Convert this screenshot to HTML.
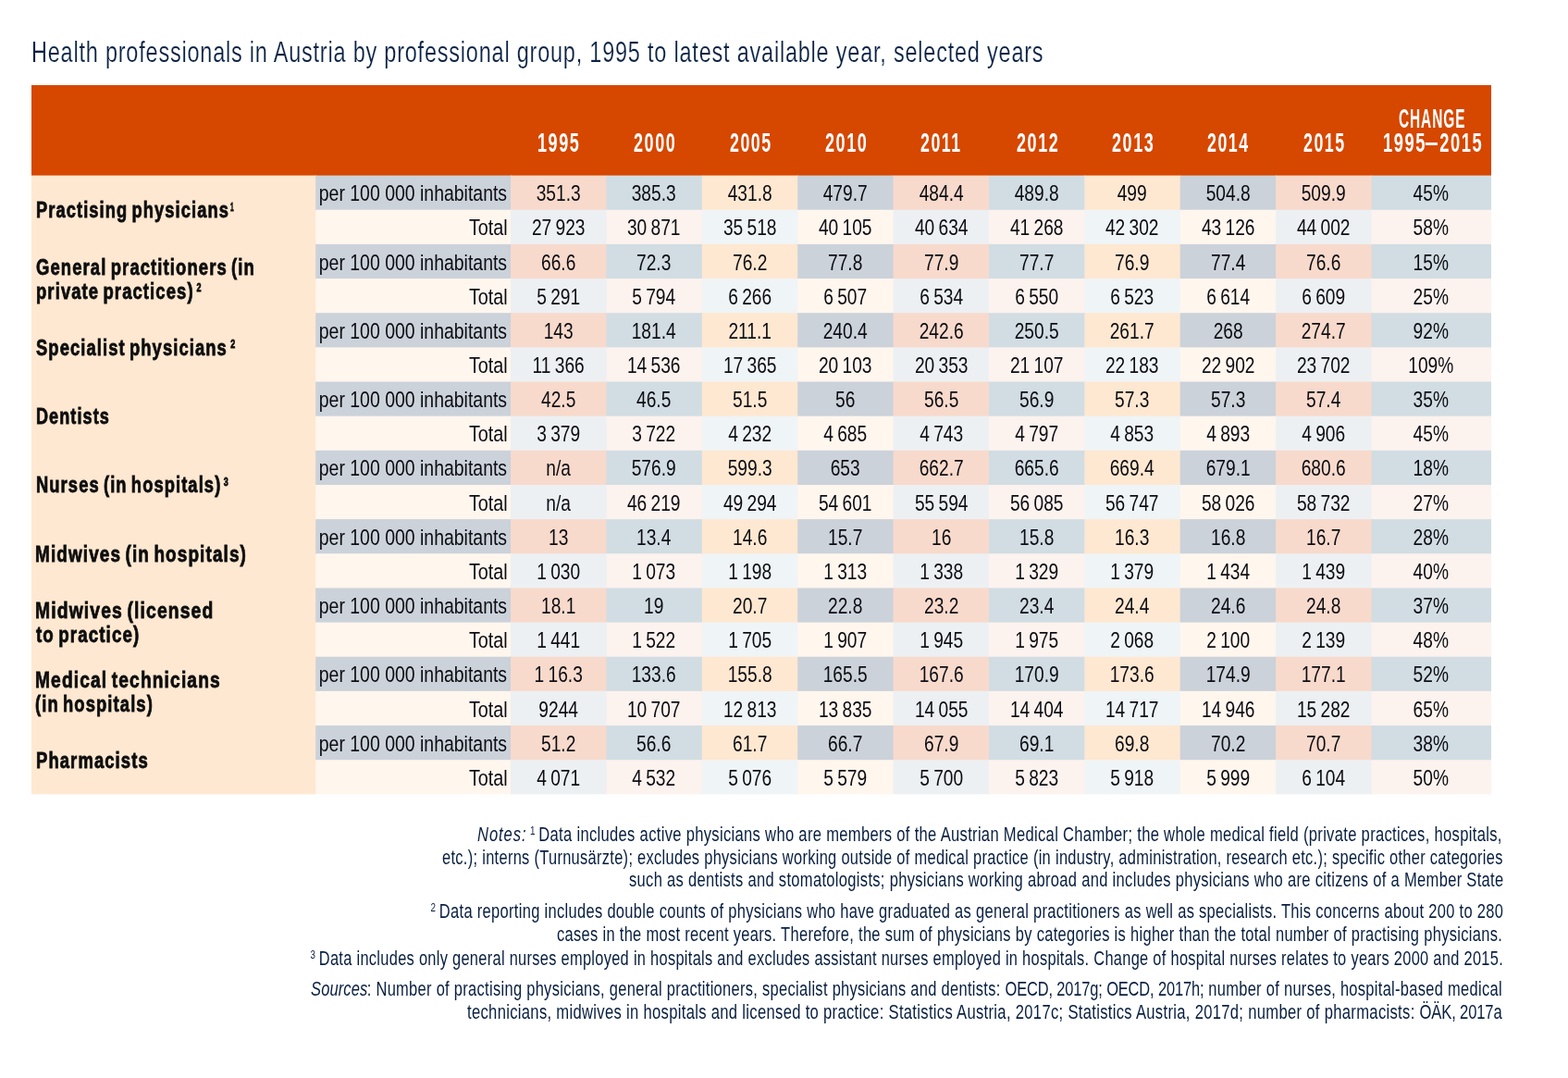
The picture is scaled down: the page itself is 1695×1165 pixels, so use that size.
<!DOCTYPE html>
<html lang="en">
<head>
<meta charset="utf-8">
<title>Health professionals in Austria by professional group</title>
<style>
html,body{margin:0;padding:0;background:#fff;}
body{width:1695px;height:1165px;position:relative;overflow:hidden;font-family:"Liberation Sans",sans-serif;color:#0c0c12;}
.a{position:absolute;}
.f{position:absolute;white-space:nowrap;transform-origin:0 0;}
.c{position:absolute;height:37.15px;}
.t{position:absolute;left:0;right:0;top:0.65px;text-align:center;white-space:nowrap;font-size:24.5px;line-height:37.15px;word-spacing:-1.3px;letter-spacing:0px;transform:scaleX(0.782);transform-origin:50% 50%;}
.r{position:absolute;right:3.7px;top:0.65px;white-space:nowrap;font-size:24.5px;line-height:37.15px;transform-origin:100% 50%;}
.per{transform:scaleX(0.794);word-spacing:0px;letter-spacing:0px;}
.tot{transform:scaleX(0.809);right:3.7px;}
.hd{color:#fff;}
.lab{color:#0d0d0d;}
.ti{color:#0a2244;}
.n{color:#081f40;}
.k0{font-size:32.2px;line-height:36px;letter-spacing:1.1px;-webkit-text-stroke:0.2px #fff;}
.k1{font-weight:700;font-size:30.4px;line-height:32px;letter-spacing:2.6px;}
.k2{font-weight:700;font-size:30.4px;line-height:32px;letter-spacing:1.8px;}
.k3{font-weight:700;font-size:23.5px;line-height:26px;letter-spacing:1.4px;word-spacing:-2.5px;-webkit-text-stroke:0.8px currentColor;}
.k4{font-size:21.8px;line-height:26px;letter-spacing:0.4px;}
.lab sup{display:inline-block;font-size:13.5px;vertical-align:baseline;position:relative;top:-7.4px;line-height:0;letter-spacing:0;margin:0 -2px 0 1px;transform:scaleX(0.62);transform-origin:0 50%;}
.lab sup.s2{margin:0 -1px 0 4px;transform:scaleX(0.85);}
.lab sup.s3{margin:0 -1px 0 3px;transform:scaleX(0.85);}
.n i{font-style:italic;letter-spacing:1.2px;}
.n i.s{letter-spacing:0.2px;margin-right:-1px;}
.n sup{font-size:13px;vertical-align:baseline;position:relative;top:-6.8px;line-height:0;letter-spacing:0;margin:0 -1.46px 0 -1.86px;}
.d{display:inline-block;transform:scaleX(1.45);margin:0 3px 0 1px;}
.u{letter-spacing:-0.2px;}
</style>
</head>
<body>
<div class="f ti k0" style="left:33.66px;top:38.1px;transform:scaleX(0.7286)">Health professionals in Austria by professional group, 1995 to latest available year, selected years</div>
<svg class="a" style="left:0;top:0" width="1695" height="1165" viewBox="0 0 1695 1165" aria-hidden="true"><rect x="34" y="92" width="1578" height="98" fill="#d64700"/><rect x="34" y="189.6" width="308" height="668.75" fill="#ffe8d1"/><rect x="341.2" y="189.6" width="211.8" height="37.4" fill="#cbd2da"/><rect x="552.05" y="189.6" width="103.95" height="37.4" fill="#f8dacc"/><rect x="655.43" y="189.6" width="103.57" height="37.4" fill="#d1dde3"/><rect x="758.81" y="189.6" width="104.19" height="37.4" fill="#ffe8d1"/><rect x="862.19" y="189.6" width="103.81" height="37.4" fill="#cbd2da"/><rect x="965.57" y="189.6" width="103.43" height="37.4" fill="#f8dacc"/><rect x="1068.95" y="189.6" width="104.05" height="37.4" fill="#d1dde3"/><rect x="1172.33" y="189.6" width="103.67" height="37.4" fill="#ffe8d1"/><rect x="1275.71" y="189.6" width="104.29" height="37.4" fill="#cbd2da"/><rect x="1379.09" y="189.6" width="103.91" height="37.4" fill="#f8dacc"/><rect x="1482.47" y="189.6" width="129.53" height="37.4" fill="#d1dde3"/>
<rect x="341.2" y="226.75" width="211.8" height="37.25" fill="#fff6ee"/><rect x="552.05" y="226.75" width="103.95" height="37.25" fill="#ecf0f3"/><rect x="655.43" y="226.75" width="103.57" height="37.25" fill="#fcf2ee"/><rect x="758.81" y="226.75" width="104.19" height="37.25" fill="#eff4f7"/><rect x="862.19" y="226.75" width="103.81" height="37.25" fill="#fff6ee"/><rect x="965.57" y="226.75" width="103.43" height="37.25" fill="#ecf0f3"/><rect x="1068.95" y="226.75" width="104.05" height="37.25" fill="#fcf2ee"/><rect x="1172.33" y="226.75" width="103.67" height="37.25" fill="#eff4f7"/><rect x="1275.71" y="226.75" width="104.29" height="37.25" fill="#fff6ee"/><rect x="1379.09" y="226.75" width="103.91" height="37.25" fill="#ecf0f3"/><rect x="1482.47" y="226.75" width="129.53" height="37.25" fill="#fcf2ee"/>
<rect x="341.2" y="263.91" width="211.8" height="38.09" fill="#cbd2da"/><rect x="552.05" y="263.91" width="103.95" height="38.09" fill="#f8dacc"/><rect x="655.43" y="263.91" width="103.57" height="38.09" fill="#d1dde3"/><rect x="758.81" y="263.91" width="104.19" height="38.09" fill="#ffe8d1"/><rect x="862.19" y="263.91" width="103.81" height="38.09" fill="#cbd2da"/><rect x="965.57" y="263.91" width="103.43" height="38.09" fill="#f8dacc"/><rect x="1068.95" y="263.91" width="104.05" height="38.09" fill="#d1dde3"/><rect x="1172.33" y="263.91" width="103.67" height="38.09" fill="#ffe8d1"/><rect x="1275.71" y="263.91" width="104.29" height="38.09" fill="#cbd2da"/><rect x="1379.09" y="263.91" width="103.91" height="38.09" fill="#f8dacc"/><rect x="1482.47" y="263.91" width="129.53" height="38.09" fill="#d1dde3"/>
<rect x="341.2" y="301.06" width="211.8" height="37.94" fill="#fff6ee"/><rect x="552.05" y="301.06" width="103.95" height="37.94" fill="#ecf0f3"/><rect x="655.43" y="301.06" width="103.57" height="37.94" fill="#fcf2ee"/><rect x="758.81" y="301.06" width="104.19" height="37.94" fill="#eff4f7"/><rect x="862.19" y="301.06" width="103.81" height="37.94" fill="#fff6ee"/><rect x="965.57" y="301.06" width="103.43" height="37.94" fill="#ecf0f3"/><rect x="1068.95" y="301.06" width="104.05" height="37.94" fill="#fcf2ee"/><rect x="1172.33" y="301.06" width="103.67" height="37.94" fill="#eff4f7"/><rect x="1275.71" y="301.06" width="104.29" height="37.94" fill="#fff6ee"/><rect x="1379.09" y="301.06" width="103.91" height="37.94" fill="#ecf0f3"/><rect x="1482.47" y="301.06" width="129.53" height="37.94" fill="#fcf2ee"/>
<rect x="341.2" y="338.21" width="211.8" height="37.79" fill="#cbd2da"/><rect x="552.05" y="338.21" width="103.95" height="37.79" fill="#f8dacc"/><rect x="655.43" y="338.21" width="103.57" height="37.79" fill="#d1dde3"/><rect x="758.81" y="338.21" width="104.19" height="37.79" fill="#ffe8d1"/><rect x="862.19" y="338.21" width="103.81" height="37.79" fill="#cbd2da"/><rect x="965.57" y="338.21" width="103.43" height="37.79" fill="#f8dacc"/><rect x="1068.95" y="338.21" width="104.05" height="37.79" fill="#d1dde3"/><rect x="1172.33" y="338.21" width="103.67" height="37.79" fill="#ffe8d1"/><rect x="1275.71" y="338.21" width="104.29" height="37.79" fill="#cbd2da"/><rect x="1379.09" y="338.21" width="103.91" height="37.79" fill="#f8dacc"/><rect x="1482.47" y="338.21" width="129.53" height="37.79" fill="#d1dde3"/>
<rect x="341.2" y="375.37" width="211.8" height="37.63" fill="#fff6ee"/><rect x="552.05" y="375.37" width="103.95" height="37.63" fill="#ecf0f3"/><rect x="655.43" y="375.37" width="103.57" height="37.63" fill="#fcf2ee"/><rect x="758.81" y="375.37" width="104.19" height="37.63" fill="#eff4f7"/><rect x="862.19" y="375.37" width="103.81" height="37.63" fill="#fff6ee"/><rect x="965.57" y="375.37" width="103.43" height="37.63" fill="#ecf0f3"/><rect x="1068.95" y="375.37" width="104.05" height="37.63" fill="#fcf2ee"/><rect x="1172.33" y="375.37" width="103.67" height="37.63" fill="#eff4f7"/><rect x="1275.71" y="375.37" width="104.29" height="37.63" fill="#fff6ee"/><rect x="1379.09" y="375.37" width="103.91" height="37.63" fill="#ecf0f3"/><rect x="1482.47" y="375.37" width="129.53" height="37.63" fill="#fcf2ee"/>
<rect x="341.2" y="412.52" width="211.8" height="37.48" fill="#cbd2da"/><rect x="552.05" y="412.52" width="103.95" height="37.48" fill="#f8dacc"/><rect x="655.43" y="412.52" width="103.57" height="37.48" fill="#d1dde3"/><rect x="758.81" y="412.52" width="104.19" height="37.48" fill="#ffe8d1"/><rect x="862.19" y="412.52" width="103.81" height="37.48" fill="#cbd2da"/><rect x="965.57" y="412.52" width="103.43" height="37.48" fill="#f8dacc"/><rect x="1068.95" y="412.52" width="104.05" height="37.48" fill="#d1dde3"/><rect x="1172.33" y="412.52" width="103.67" height="37.48" fill="#ffe8d1"/><rect x="1275.71" y="412.52" width="104.29" height="37.48" fill="#cbd2da"/><rect x="1379.09" y="412.52" width="103.91" height="37.48" fill="#f8dacc"/><rect x="1482.47" y="412.52" width="129.53" height="37.48" fill="#d1dde3"/>
<rect x="341.2" y="449.67" width="211.8" height="37.33" fill="#fff6ee"/><rect x="552.05" y="449.67" width="103.95" height="37.33" fill="#ecf0f3"/><rect x="655.43" y="449.67" width="103.57" height="37.33" fill="#fcf2ee"/><rect x="758.81" y="449.67" width="104.19" height="37.33" fill="#eff4f7"/><rect x="862.19" y="449.67" width="103.81" height="37.33" fill="#fff6ee"/><rect x="965.57" y="449.67" width="103.43" height="37.33" fill="#ecf0f3"/><rect x="1068.95" y="449.67" width="104.05" height="37.33" fill="#fcf2ee"/><rect x="1172.33" y="449.67" width="103.67" height="37.33" fill="#eff4f7"/><rect x="1275.71" y="449.67" width="104.29" height="37.33" fill="#fff6ee"/><rect x="1379.09" y="449.67" width="103.91" height="37.33" fill="#ecf0f3"/><rect x="1482.47" y="449.67" width="129.53" height="37.33" fill="#fcf2ee"/>
<rect x="341.2" y="486.82" width="211.8" height="37.18" fill="#cbd2da"/><rect x="552.05" y="486.82" width="103.95" height="37.18" fill="#f8dacc"/><rect x="655.43" y="486.82" width="103.57" height="37.18" fill="#d1dde3"/><rect x="758.81" y="486.82" width="104.19" height="37.18" fill="#ffe8d1"/><rect x="862.19" y="486.82" width="103.81" height="37.18" fill="#cbd2da"/><rect x="965.57" y="486.82" width="103.43" height="37.18" fill="#f8dacc"/><rect x="1068.95" y="486.82" width="104.05" height="37.18" fill="#d1dde3"/><rect x="1172.33" y="486.82" width="103.67" height="37.18" fill="#ffe8d1"/><rect x="1275.71" y="486.82" width="104.29" height="37.18" fill="#cbd2da"/><rect x="1379.09" y="486.82" width="103.91" height="37.18" fill="#f8dacc"/><rect x="1482.47" y="486.82" width="129.53" height="37.18" fill="#d1dde3"/>
<rect x="341.2" y="523.98" width="211.8" height="38.02" fill="#fff6ee"/><rect x="552.05" y="523.98" width="103.95" height="38.02" fill="#ecf0f3"/><rect x="655.43" y="523.98" width="103.57" height="38.02" fill="#fcf2ee"/><rect x="758.81" y="523.98" width="104.19" height="38.02" fill="#eff4f7"/><rect x="862.19" y="523.98" width="103.81" height="38.02" fill="#fff6ee"/><rect x="965.57" y="523.98" width="103.43" height="38.02" fill="#ecf0f3"/><rect x="1068.95" y="523.98" width="104.05" height="38.02" fill="#fcf2ee"/><rect x="1172.33" y="523.98" width="103.67" height="38.02" fill="#eff4f7"/><rect x="1275.71" y="523.98" width="104.29" height="38.02" fill="#fff6ee"/><rect x="1379.09" y="523.98" width="103.91" height="38.02" fill="#ecf0f3"/><rect x="1482.47" y="523.98" width="129.53" height="38.02" fill="#fcf2ee"/>
<rect x="341.2" y="561.13" width="211.8" height="37.87" fill="#cbd2da"/><rect x="552.05" y="561.13" width="103.95" height="37.87" fill="#f8dacc"/><rect x="655.43" y="561.13" width="103.57" height="37.87" fill="#d1dde3"/><rect x="758.81" y="561.13" width="104.19" height="37.87" fill="#ffe8d1"/><rect x="862.19" y="561.13" width="103.81" height="37.87" fill="#cbd2da"/><rect x="965.57" y="561.13" width="103.43" height="37.87" fill="#f8dacc"/><rect x="1068.95" y="561.13" width="104.05" height="37.87" fill="#d1dde3"/><rect x="1172.33" y="561.13" width="103.67" height="37.87" fill="#ffe8d1"/><rect x="1275.71" y="561.13" width="104.29" height="37.87" fill="#cbd2da"/><rect x="1379.09" y="561.13" width="103.91" height="37.87" fill="#f8dacc"/><rect x="1482.47" y="561.13" width="129.53" height="37.87" fill="#d1dde3"/>
<rect x="341.2" y="598.28" width="211.8" height="37.72" fill="#fff6ee"/><rect x="552.05" y="598.28" width="103.95" height="37.72" fill="#ecf0f3"/><rect x="655.43" y="598.28" width="103.57" height="37.72" fill="#fcf2ee"/><rect x="758.81" y="598.28" width="104.19" height="37.72" fill="#eff4f7"/><rect x="862.19" y="598.28" width="103.81" height="37.72" fill="#fff6ee"/><rect x="965.57" y="598.28" width="103.43" height="37.72" fill="#ecf0f3"/><rect x="1068.95" y="598.28" width="104.05" height="37.72" fill="#fcf2ee"/><rect x="1172.33" y="598.28" width="103.67" height="37.72" fill="#eff4f7"/><rect x="1275.71" y="598.28" width="104.29" height="37.72" fill="#fff6ee"/><rect x="1379.09" y="598.28" width="103.91" height="37.72" fill="#ecf0f3"/><rect x="1482.47" y="598.28" width="129.53" height="37.72" fill="#fcf2ee"/>
<rect x="341.2" y="635.44" width="211.8" height="37.56" fill="#cbd2da"/><rect x="552.05" y="635.44" width="103.95" height="37.56" fill="#f8dacc"/><rect x="655.43" y="635.44" width="103.57" height="37.56" fill="#d1dde3"/><rect x="758.81" y="635.44" width="104.19" height="37.56" fill="#ffe8d1"/><rect x="862.19" y="635.44" width="103.81" height="37.56" fill="#cbd2da"/><rect x="965.57" y="635.44" width="103.43" height="37.56" fill="#f8dacc"/><rect x="1068.95" y="635.44" width="104.05" height="37.56" fill="#d1dde3"/><rect x="1172.33" y="635.44" width="103.67" height="37.56" fill="#ffe8d1"/><rect x="1275.71" y="635.44" width="104.29" height="37.56" fill="#cbd2da"/><rect x="1379.09" y="635.44" width="103.91" height="37.56" fill="#f8dacc"/><rect x="1482.47" y="635.44" width="129.53" height="37.56" fill="#d1dde3"/>
<rect x="341.2" y="672.59" width="211.8" height="37.41" fill="#fff6ee"/><rect x="552.05" y="672.59" width="103.95" height="37.41" fill="#ecf0f3"/><rect x="655.43" y="672.59" width="103.57" height="37.41" fill="#fcf2ee"/><rect x="758.81" y="672.59" width="104.19" height="37.41" fill="#eff4f7"/><rect x="862.19" y="672.59" width="103.81" height="37.41" fill="#fff6ee"/><rect x="965.57" y="672.59" width="103.43" height="37.41" fill="#ecf0f3"/><rect x="1068.95" y="672.59" width="104.05" height="37.41" fill="#fcf2ee"/><rect x="1172.33" y="672.59" width="103.67" height="37.41" fill="#eff4f7"/><rect x="1275.71" y="672.59" width="104.29" height="37.41" fill="#fff6ee"/><rect x="1379.09" y="672.59" width="103.91" height="37.41" fill="#ecf0f3"/><rect x="1482.47" y="672.59" width="129.53" height="37.41" fill="#fcf2ee"/>
<rect x="341.2" y="709.74" width="211.8" height="37.26" fill="#cbd2da"/><rect x="552.05" y="709.74" width="103.95" height="37.26" fill="#f8dacc"/><rect x="655.43" y="709.74" width="103.57" height="37.26" fill="#d1dde3"/><rect x="758.81" y="709.74" width="104.19" height="37.26" fill="#ffe8d1"/><rect x="862.19" y="709.74" width="103.81" height="37.26" fill="#cbd2da"/><rect x="965.57" y="709.74" width="103.43" height="37.26" fill="#f8dacc"/><rect x="1068.95" y="709.74" width="104.05" height="37.26" fill="#d1dde3"/><rect x="1172.33" y="709.74" width="103.67" height="37.26" fill="#ffe8d1"/><rect x="1275.71" y="709.74" width="104.29" height="37.26" fill="#cbd2da"/><rect x="1379.09" y="709.74" width="103.91" height="37.26" fill="#f8dacc"/><rect x="1482.47" y="709.74" width="129.53" height="37.26" fill="#d1dde3"/>
<rect x="341.2" y="746.89" width="211.8" height="38.11" fill="#fff6ee"/><rect x="552.05" y="746.89" width="103.95" height="38.11" fill="#ecf0f3"/><rect x="655.43" y="746.89" width="103.57" height="38.11" fill="#fcf2ee"/><rect x="758.81" y="746.89" width="104.19" height="38.11" fill="#eff4f7"/><rect x="862.19" y="746.89" width="103.81" height="38.11" fill="#fff6ee"/><rect x="965.57" y="746.89" width="103.43" height="38.11" fill="#ecf0f3"/><rect x="1068.95" y="746.89" width="104.05" height="38.11" fill="#fcf2ee"/><rect x="1172.33" y="746.89" width="103.67" height="38.11" fill="#eff4f7"/><rect x="1275.71" y="746.89" width="104.29" height="38.11" fill="#fff6ee"/><rect x="1379.09" y="746.89" width="103.91" height="38.11" fill="#ecf0f3"/><rect x="1482.47" y="746.89" width="129.53" height="38.11" fill="#fcf2ee"/>
<rect x="341.2" y="784.05" width="211.8" height="37.95" fill="#cbd2da"/><rect x="552.05" y="784.05" width="103.95" height="37.95" fill="#f8dacc"/><rect x="655.43" y="784.05" width="103.57" height="37.95" fill="#d1dde3"/><rect x="758.81" y="784.05" width="104.19" height="37.95" fill="#ffe8d1"/><rect x="862.19" y="784.05" width="103.81" height="37.95" fill="#cbd2da"/><rect x="965.57" y="784.05" width="103.43" height="37.95" fill="#f8dacc"/><rect x="1068.95" y="784.05" width="104.05" height="37.95" fill="#d1dde3"/><rect x="1172.33" y="784.05" width="103.67" height="37.95" fill="#ffe8d1"/><rect x="1275.71" y="784.05" width="104.29" height="37.95" fill="#cbd2da"/><rect x="1379.09" y="784.05" width="103.91" height="37.95" fill="#f8dacc"/><rect x="1482.47" y="784.05" width="129.53" height="37.95" fill="#d1dde3"/>
<rect x="341.2" y="821.2" width="211.8" height="37.15" fill="#fff6ee"/><rect x="552.05" y="821.2" width="103.95" height="37.15" fill="#ecf0f3"/><rect x="655.43" y="821.2" width="103.57" height="37.15" fill="#fcf2ee"/><rect x="758.81" y="821.2" width="104.19" height="37.15" fill="#eff4f7"/><rect x="862.19" y="821.2" width="103.81" height="37.15" fill="#fff6ee"/><rect x="965.57" y="821.2" width="103.43" height="37.15" fill="#ecf0f3"/><rect x="1068.95" y="821.2" width="104.05" height="37.15" fill="#fcf2ee"/><rect x="1172.33" y="821.2" width="103.67" height="37.15" fill="#eff4f7"/><rect x="1275.71" y="821.2" width="104.29" height="37.15" fill="#fff6ee"/><rect x="1379.09" y="821.2" width="103.91" height="37.15" fill="#ecf0f3"/><rect x="1482.47" y="821.2" width="129.53" height="37.15" fill="#fcf2ee"/>
</svg>
<div class="f hd k1" style="left:581.2px;top:137.3px;transform:scaleX(0.5932)">1995</div>
<div class="f hd k1" style="left:685.18px;top:137.3px;transform:scaleX(0.5932)">2000</div>
<div class="f hd k1" style="left:788.56px;top:137.3px;transform:scaleX(0.5851)">2005</div>
<div class="f hd k1" style="left:891.94px;top:137.3px;transform:scaleX(0.5932)">2010</div>
<div class="f hd k1" style="left:995.38px;top:137.3px;transform:scaleX(0.5833)">2011</div>
<div class="f hd k1" style="left:1098.7px;top:137.3px;transform:scaleX(0.5932)">2012</div>
<div class="f hd k1" style="left:1202.08px;top:137.3px;transform:scaleX(0.5932)">2013</div>
<div class="f hd k1" style="left:1305.46px;top:137.3px;transform:scaleX(0.5851)">2014</div>
<div class="f hd k1" style="left:1408.84px;top:137.3px;transform:scaleX(0.5851)">2015</div>
<div class="f hd k2" style="left:1511.99px;top:111.3px;transform:scaleX(0.5079)">CHANGE</div>
<div class="f hd k1" style="left:1494.6px;top:137.3px;transform:scaleX(0.6023)">1995<span class="d">&#8211;</span>2015</div>
<div class="f lab k3" style="left:38.52px;top:214.1px;transform:scaleX(0.7781)">Practising physicians<sup>1</sup></div>
<div class="f lab k3" style="left:38.51px;top:275.91px;transform:scaleX(0.7856)">General practitioners (in</div>
<div class="f lab k3" style="left:38.51px;top:301.81px;transform:scaleX(0.7854)">private practices)<sup class='s2'>2</sup></div>
<div class="f lab k3" style="left:39.3px;top:362.71px;transform:scaleX(0.7818)">Specialist physicians<sup class='s2'>2</sup></div>
<div class="f lab k3" style="left:38.93px;top:437.02px;transform:scaleX(0.7683)">Dentists</div>
<div class="f lab k3" style="left:38.52px;top:511.32px;transform:scaleX(0.78)">Nurses (in hospitals)<sup class='s3'>3</sup></div>
<div class="f lab k3" style="left:38.49px;top:585.63px;transform:scaleX(0.8053)">Midwives (in hospitals)</div>
<div class="f lab k3" style="left:38.48px;top:647.44px;transform:scaleX(0.8211)">Midwives (licensed</div>
<div class="f lab k3" style="left:38.7px;top:673.34px;transform:scaleX(0.7971)">to practice)</div>
<div class="f lab k3" style="left:38.48px;top:721.74px;transform:scaleX(0.816)">Medical technicians</div>
<div class="f lab k3" style="left:38.12px;top:747.64px;transform:scaleX(0.7831)">(in hospitals)</div>
<div class="f lab k3" style="left:38.52px;top:808.55px;transform:scaleX(0.7849)">Pharmacists</div>
<div class="c" style="left:341.2px;top:189.6px;width:210.85px"><div class="r per">per 100 000 inhabitants</div></div><div class="c" style="left:552.05px;top:189.6px;width:103.38px"><div class="t">351.3</div></div><div class="c" style="left:655.43px;top:189.6px;width:103.38px"><div class="t">385.3</div></div><div class="c" style="left:758.81px;top:189.6px;width:103.38px"><div class="t">431.8</div></div><div class="c" style="left:862.19px;top:189.6px;width:103.38px"><div class="t">479.7</div></div><div class="c" style="left:965.57px;top:189.6px;width:103.38px"><div class="t">484.4</div></div><div class="c" style="left:1068.95px;top:189.6px;width:103.38px"><div class="t">489.8</div></div><div class="c" style="left:1172.33px;top:189.6px;width:103.38px"><div class="t">499</div></div><div class="c" style="left:1275.71px;top:189.6px;width:103.38px"><div class="t">504.8</div></div><div class="c" style="left:1379.09px;top:189.6px;width:103.38px"><div class="t">509.9</div></div><div class="c" style="left:1482.47px;top:189.6px;width:129.58px"><div class="t">45%</div></div>
<div class="c" style="left:341.2px;top:226.75px;width:210.85px"><div class="r tot">Total</div></div><div class="c" style="left:552.05px;top:226.75px;width:103.38px"><div class="t">27 923</div></div><div class="c" style="left:655.43px;top:226.75px;width:103.38px"><div class="t">30 871</div></div><div class="c" style="left:758.81px;top:226.75px;width:103.38px"><div class="t">35 518</div></div><div class="c" style="left:862.19px;top:226.75px;width:103.38px"><div class="t">40 105</div></div><div class="c" style="left:965.57px;top:226.75px;width:103.38px"><div class="t">40 634</div></div><div class="c" style="left:1068.95px;top:226.75px;width:103.38px"><div class="t">41 268</div></div><div class="c" style="left:1172.33px;top:226.75px;width:103.38px"><div class="t">42 302</div></div><div class="c" style="left:1275.71px;top:226.75px;width:103.38px"><div class="t">43 126</div></div><div class="c" style="left:1379.09px;top:226.75px;width:103.38px"><div class="t">44 002</div></div><div class="c" style="left:1482.47px;top:226.75px;width:129.58px"><div class="t">58%</div></div>
<div class="c" style="left:341.2px;top:263.91px;width:210.85px"><div class="r per">per 100 000 inhabitants</div></div><div class="c" style="left:552.05px;top:263.91px;width:103.38px"><div class="t">66.6</div></div><div class="c" style="left:655.43px;top:263.91px;width:103.38px"><div class="t">72.3</div></div><div class="c" style="left:758.81px;top:263.91px;width:103.38px"><div class="t">76.2</div></div><div class="c" style="left:862.19px;top:263.91px;width:103.38px"><div class="t">77.8</div></div><div class="c" style="left:965.57px;top:263.91px;width:103.38px"><div class="t">77.9</div></div><div class="c" style="left:1068.95px;top:263.91px;width:103.38px"><div class="t">77.7</div></div><div class="c" style="left:1172.33px;top:263.91px;width:103.38px"><div class="t">76.9</div></div><div class="c" style="left:1275.71px;top:263.91px;width:103.38px"><div class="t">77.4</div></div><div class="c" style="left:1379.09px;top:263.91px;width:103.38px"><div class="t">76.6</div></div><div class="c" style="left:1482.47px;top:263.91px;width:129.58px"><div class="t">15%</div></div>
<div class="c" style="left:341.2px;top:301.06px;width:210.85px"><div class="r tot">Total</div></div><div class="c" style="left:552.05px;top:301.06px;width:103.38px"><div class="t">5 291</div></div><div class="c" style="left:655.43px;top:301.06px;width:103.38px"><div class="t">5 794</div></div><div class="c" style="left:758.81px;top:301.06px;width:103.38px"><div class="t">6 266</div></div><div class="c" style="left:862.19px;top:301.06px;width:103.38px"><div class="t">6 507</div></div><div class="c" style="left:965.57px;top:301.06px;width:103.38px"><div class="t">6 534</div></div><div class="c" style="left:1068.95px;top:301.06px;width:103.38px"><div class="t">6 550</div></div><div class="c" style="left:1172.33px;top:301.06px;width:103.38px"><div class="t">6 523</div></div><div class="c" style="left:1275.71px;top:301.06px;width:103.38px"><div class="t">6 614</div></div><div class="c" style="left:1379.09px;top:301.06px;width:103.38px"><div class="t">6 609</div></div><div class="c" style="left:1482.47px;top:301.06px;width:129.58px"><div class="t">25%</div></div>
<div class="c" style="left:341.2px;top:338.21px;width:210.85px"><div class="r per">per 100 000 inhabitants</div></div><div class="c" style="left:552.05px;top:338.21px;width:103.38px"><div class="t">143</div></div><div class="c" style="left:655.43px;top:338.21px;width:103.38px"><div class="t">181.4</div></div><div class="c" style="left:758.81px;top:338.21px;width:103.38px"><div class="t">211.1</div></div><div class="c" style="left:862.19px;top:338.21px;width:103.38px"><div class="t">240.4</div></div><div class="c" style="left:965.57px;top:338.21px;width:103.38px"><div class="t">242.6</div></div><div class="c" style="left:1068.95px;top:338.21px;width:103.38px"><div class="t">250.5</div></div><div class="c" style="left:1172.33px;top:338.21px;width:103.38px"><div class="t">261.7</div></div><div class="c" style="left:1275.71px;top:338.21px;width:103.38px"><div class="t">268</div></div><div class="c" style="left:1379.09px;top:338.21px;width:103.38px"><div class="t">274.7</div></div><div class="c" style="left:1482.47px;top:338.21px;width:129.58px"><div class="t">92%</div></div>
<div class="c" style="left:341.2px;top:375.37px;width:210.85px"><div class="r tot">Total</div></div><div class="c" style="left:552.05px;top:375.37px;width:103.38px"><div class="t">11 366</div></div><div class="c" style="left:655.43px;top:375.37px;width:103.38px"><div class="t">14 536</div></div><div class="c" style="left:758.81px;top:375.37px;width:103.38px"><div class="t">17 365</div></div><div class="c" style="left:862.19px;top:375.37px;width:103.38px"><div class="t">20 103</div></div><div class="c" style="left:965.57px;top:375.37px;width:103.38px"><div class="t">20 353</div></div><div class="c" style="left:1068.95px;top:375.37px;width:103.38px"><div class="t">21 107</div></div><div class="c" style="left:1172.33px;top:375.37px;width:103.38px"><div class="t">22 183</div></div><div class="c" style="left:1275.71px;top:375.37px;width:103.38px"><div class="t">22 902</div></div><div class="c" style="left:1379.09px;top:375.37px;width:103.38px"><div class="t">23 702</div></div><div class="c" style="left:1482.47px;top:375.37px;width:129.58px"><div class="t">109%</div></div>
<div class="c" style="left:341.2px;top:412.52px;width:210.85px"><div class="r per">per 100 000 inhabitants</div></div><div class="c" style="left:552.05px;top:412.52px;width:103.38px"><div class="t">42.5</div></div><div class="c" style="left:655.43px;top:412.52px;width:103.38px"><div class="t">46.5</div></div><div class="c" style="left:758.81px;top:412.52px;width:103.38px"><div class="t">51.5</div></div><div class="c" style="left:862.19px;top:412.52px;width:103.38px"><div class="t">56</div></div><div class="c" style="left:965.57px;top:412.52px;width:103.38px"><div class="t">56.5</div></div><div class="c" style="left:1068.95px;top:412.52px;width:103.38px"><div class="t">56.9</div></div><div class="c" style="left:1172.33px;top:412.52px;width:103.38px"><div class="t">57.3</div></div><div class="c" style="left:1275.71px;top:412.52px;width:103.38px"><div class="t">57.3</div></div><div class="c" style="left:1379.09px;top:412.52px;width:103.38px"><div class="t">57.4</div></div><div class="c" style="left:1482.47px;top:412.52px;width:129.58px"><div class="t">35%</div></div>
<div class="c" style="left:341.2px;top:449.67px;width:210.85px"><div class="r tot">Total</div></div><div class="c" style="left:552.05px;top:449.67px;width:103.38px"><div class="t">3 379</div></div><div class="c" style="left:655.43px;top:449.67px;width:103.38px"><div class="t">3 722</div></div><div class="c" style="left:758.81px;top:449.67px;width:103.38px"><div class="t">4 232</div></div><div class="c" style="left:862.19px;top:449.67px;width:103.38px"><div class="t">4 685</div></div><div class="c" style="left:965.57px;top:449.67px;width:103.38px"><div class="t">4 743</div></div><div class="c" style="left:1068.95px;top:449.67px;width:103.38px"><div class="t">4 797</div></div><div class="c" style="left:1172.33px;top:449.67px;width:103.38px"><div class="t">4 853</div></div><div class="c" style="left:1275.71px;top:449.67px;width:103.38px"><div class="t">4 893</div></div><div class="c" style="left:1379.09px;top:449.67px;width:103.38px"><div class="t">4 906</div></div><div class="c" style="left:1482.47px;top:449.67px;width:129.58px"><div class="t">45%</div></div>
<div class="c" style="left:341.2px;top:486.82px;width:210.85px"><div class="r per">per 100 000 inhabitants</div></div><div class="c" style="left:552.05px;top:486.82px;width:103.38px"><div class="t">n/a</div></div><div class="c" style="left:655.43px;top:486.82px;width:103.38px"><div class="t">576.9</div></div><div class="c" style="left:758.81px;top:486.82px;width:103.38px"><div class="t">599.3</div></div><div class="c" style="left:862.19px;top:486.82px;width:103.38px"><div class="t">653</div></div><div class="c" style="left:965.57px;top:486.82px;width:103.38px"><div class="t">662.7</div></div><div class="c" style="left:1068.95px;top:486.82px;width:103.38px"><div class="t">665.6</div></div><div class="c" style="left:1172.33px;top:486.82px;width:103.38px"><div class="t">669.4</div></div><div class="c" style="left:1275.71px;top:486.82px;width:103.38px"><div class="t">679.1</div></div><div class="c" style="left:1379.09px;top:486.82px;width:103.38px"><div class="t">680.6</div></div><div class="c" style="left:1482.47px;top:486.82px;width:129.58px"><div class="t">18%</div></div>
<div class="c" style="left:341.2px;top:523.98px;width:210.85px"><div class="r tot">Total</div></div><div class="c" style="left:552.05px;top:523.98px;width:103.38px"><div class="t">n/a</div></div><div class="c" style="left:655.43px;top:523.98px;width:103.38px"><div class="t">46 219</div></div><div class="c" style="left:758.81px;top:523.98px;width:103.38px"><div class="t">49 294</div></div><div class="c" style="left:862.19px;top:523.98px;width:103.38px"><div class="t">54 601</div></div><div class="c" style="left:965.57px;top:523.98px;width:103.38px"><div class="t">55 594</div></div><div class="c" style="left:1068.95px;top:523.98px;width:103.38px"><div class="t">56 085</div></div><div class="c" style="left:1172.33px;top:523.98px;width:103.38px"><div class="t">56 747</div></div><div class="c" style="left:1275.71px;top:523.98px;width:103.38px"><div class="t">58 026</div></div><div class="c" style="left:1379.09px;top:523.98px;width:103.38px"><div class="t">58 732</div></div><div class="c" style="left:1482.47px;top:523.98px;width:129.58px"><div class="t">27%</div></div>
<div class="c" style="left:341.2px;top:561.13px;width:210.85px"><div class="r per">per 100 000 inhabitants</div></div><div class="c" style="left:552.05px;top:561.13px;width:103.38px"><div class="t">13</div></div><div class="c" style="left:655.43px;top:561.13px;width:103.38px"><div class="t">13.4</div></div><div class="c" style="left:758.81px;top:561.13px;width:103.38px"><div class="t">14.6</div></div><div class="c" style="left:862.19px;top:561.13px;width:103.38px"><div class="t">15.7</div></div><div class="c" style="left:965.57px;top:561.13px;width:103.38px"><div class="t">16</div></div><div class="c" style="left:1068.95px;top:561.13px;width:103.38px"><div class="t">15.8</div></div><div class="c" style="left:1172.33px;top:561.13px;width:103.38px"><div class="t">16.3</div></div><div class="c" style="left:1275.71px;top:561.13px;width:103.38px"><div class="t">16.8</div></div><div class="c" style="left:1379.09px;top:561.13px;width:103.38px"><div class="t">16.7</div></div><div class="c" style="left:1482.47px;top:561.13px;width:129.58px"><div class="t">28%</div></div>
<div class="c" style="left:341.2px;top:598.28px;width:210.85px"><div class="r tot">Total</div></div><div class="c" style="left:552.05px;top:598.28px;width:103.38px"><div class="t">1 030</div></div><div class="c" style="left:655.43px;top:598.28px;width:103.38px"><div class="t">1 073</div></div><div class="c" style="left:758.81px;top:598.28px;width:103.38px"><div class="t">1 198</div></div><div class="c" style="left:862.19px;top:598.28px;width:103.38px"><div class="t">1 313</div></div><div class="c" style="left:965.57px;top:598.28px;width:103.38px"><div class="t">1 338</div></div><div class="c" style="left:1068.95px;top:598.28px;width:103.38px"><div class="t">1 329</div></div><div class="c" style="left:1172.33px;top:598.28px;width:103.38px"><div class="t">1 379</div></div><div class="c" style="left:1275.71px;top:598.28px;width:103.38px"><div class="t">1 434</div></div><div class="c" style="left:1379.09px;top:598.28px;width:103.38px"><div class="t">1 439</div></div><div class="c" style="left:1482.47px;top:598.28px;width:129.58px"><div class="t">40%</div></div>
<div class="c" style="left:341.2px;top:635.44px;width:210.85px"><div class="r per">per 100 000 inhabitants</div></div><div class="c" style="left:552.05px;top:635.44px;width:103.38px"><div class="t">18.1</div></div><div class="c" style="left:655.43px;top:635.44px;width:103.38px"><div class="t">19</div></div><div class="c" style="left:758.81px;top:635.44px;width:103.38px"><div class="t">20.7</div></div><div class="c" style="left:862.19px;top:635.44px;width:103.38px"><div class="t">22.8</div></div><div class="c" style="left:965.57px;top:635.44px;width:103.38px"><div class="t">23.2</div></div><div class="c" style="left:1068.95px;top:635.44px;width:103.38px"><div class="t">23.4</div></div><div class="c" style="left:1172.33px;top:635.44px;width:103.38px"><div class="t">24.4</div></div><div class="c" style="left:1275.71px;top:635.44px;width:103.38px"><div class="t">24.6</div></div><div class="c" style="left:1379.09px;top:635.44px;width:103.38px"><div class="t">24.8</div></div><div class="c" style="left:1482.47px;top:635.44px;width:129.58px"><div class="t">37%</div></div>
<div class="c" style="left:341.2px;top:672.59px;width:210.85px"><div class="r tot">Total</div></div><div class="c" style="left:552.05px;top:672.59px;width:103.38px"><div class="t">1 441</div></div><div class="c" style="left:655.43px;top:672.59px;width:103.38px"><div class="t">1 522</div></div><div class="c" style="left:758.81px;top:672.59px;width:103.38px"><div class="t">1 705</div></div><div class="c" style="left:862.19px;top:672.59px;width:103.38px"><div class="t">1 907</div></div><div class="c" style="left:965.57px;top:672.59px;width:103.38px"><div class="t">1 945</div></div><div class="c" style="left:1068.95px;top:672.59px;width:103.38px"><div class="t">1 975</div></div><div class="c" style="left:1172.33px;top:672.59px;width:103.38px"><div class="t">2 068</div></div><div class="c" style="left:1275.71px;top:672.59px;width:103.38px"><div class="t">2 100</div></div><div class="c" style="left:1379.09px;top:672.59px;width:103.38px"><div class="t">2 139</div></div><div class="c" style="left:1482.47px;top:672.59px;width:129.58px"><div class="t">48%</div></div>
<div class="c" style="left:341.2px;top:709.74px;width:210.85px"><div class="r per">per 100 000 inhabitants</div></div><div class="c" style="left:552.05px;top:709.74px;width:103.38px"><div class="t">1 16.3</div></div><div class="c" style="left:655.43px;top:709.74px;width:103.38px"><div class="t">133.6</div></div><div class="c" style="left:758.81px;top:709.74px;width:103.38px"><div class="t">155.8</div></div><div class="c" style="left:862.19px;top:709.74px;width:103.38px"><div class="t">165.5</div></div><div class="c" style="left:965.57px;top:709.74px;width:103.38px"><div class="t">167.6</div></div><div class="c" style="left:1068.95px;top:709.74px;width:103.38px"><div class="t">170.9</div></div><div class="c" style="left:1172.33px;top:709.74px;width:103.38px"><div class="t">173.6</div></div><div class="c" style="left:1275.71px;top:709.74px;width:103.38px"><div class="t">174.9</div></div><div class="c" style="left:1379.09px;top:709.74px;width:103.38px"><div class="t">177.1</div></div><div class="c" style="left:1482.47px;top:709.74px;width:129.58px"><div class="t">52%</div></div>
<div class="c" style="left:341.2px;top:746.89px;width:210.85px"><div class="r tot">Total</div></div><div class="c" style="left:552.05px;top:746.89px;width:103.38px"><div class="t">9244</div></div><div class="c" style="left:655.43px;top:746.89px;width:103.38px"><div class="t">10 707</div></div><div class="c" style="left:758.81px;top:746.89px;width:103.38px"><div class="t">12 813</div></div><div class="c" style="left:862.19px;top:746.89px;width:103.38px"><div class="t">13 835</div></div><div class="c" style="left:965.57px;top:746.89px;width:103.38px"><div class="t">14 055</div></div><div class="c" style="left:1068.95px;top:746.89px;width:103.38px"><div class="t">14 404</div></div><div class="c" style="left:1172.33px;top:746.89px;width:103.38px"><div class="t">14 717</div></div><div class="c" style="left:1275.71px;top:746.89px;width:103.38px"><div class="t">14 946</div></div><div class="c" style="left:1379.09px;top:746.89px;width:103.38px"><div class="t">15 282</div></div><div class="c" style="left:1482.47px;top:746.89px;width:129.58px"><div class="t">65%</div></div>
<div class="c" style="left:341.2px;top:784.05px;width:210.85px"><div class="r per">per 100 000 inhabitants</div></div><div class="c" style="left:552.05px;top:784.05px;width:103.38px"><div class="t">51.2</div></div><div class="c" style="left:655.43px;top:784.05px;width:103.38px"><div class="t">56.6</div></div><div class="c" style="left:758.81px;top:784.05px;width:103.38px"><div class="t">61.7</div></div><div class="c" style="left:862.19px;top:784.05px;width:103.38px"><div class="t">66.7</div></div><div class="c" style="left:965.57px;top:784.05px;width:103.38px"><div class="t">67.9</div></div><div class="c" style="left:1068.95px;top:784.05px;width:103.38px"><div class="t">69.1</div></div><div class="c" style="left:1172.33px;top:784.05px;width:103.38px"><div class="t">69.8</div></div><div class="c" style="left:1275.71px;top:784.05px;width:103.38px"><div class="t">70.2</div></div><div class="c" style="left:1379.09px;top:784.05px;width:103.38px"><div class="t">70.7</div></div><div class="c" style="left:1482.47px;top:784.05px;width:129.58px"><div class="t">38%</div></div>
<div class="c" style="left:341.2px;top:821.2px;width:210.85px"><div class="r tot">Total</div></div><div class="c" style="left:552.05px;top:821.2px;width:103.38px"><div class="t">4 071</div></div><div class="c" style="left:655.43px;top:821.2px;width:103.38px"><div class="t">4 532</div></div><div class="c" style="left:758.81px;top:821.2px;width:103.38px"><div class="t">5 076</div></div><div class="c" style="left:862.19px;top:821.2px;width:103.38px"><div class="t">5 579</div></div><div class="c" style="left:965.57px;top:821.2px;width:103.38px"><div class="t">5 700</div></div><div class="c" style="left:1068.95px;top:821.2px;width:103.38px"><div class="t">5 823</div></div><div class="c" style="left:1172.33px;top:821.2px;width:103.38px"><div class="t">5 918</div></div><div class="c" style="left:1275.71px;top:821.2px;width:103.38px"><div class="t">5 999</div></div><div class="c" style="left:1379.09px;top:821.2px;width:103.38px"><div class="t">6 104</div></div><div class="c" style="left:1482.47px;top:821.2px;width:129.58px"><div class="t">50%</div></div>
<div class="f n k4" style="left:516.44px;top:888.7px;transform:scaleX(0.761)"><i>Notes:</i> <sup>1</sup> Data includes active physicians who are members of the Austrian Medical Chamber; the whole medical field (private practices, hospitals,</div>
<div class="f n k4" style="left:477.65px;top:913.5px;transform:scaleX(0.7537)">etc.); interns (Turnusärzte); excludes physicians working outside of medical practice (in industry, administration, research etc.); specific other categories</div>
<div class="f n k4" style="left:679.74px;top:938.4px;transform:scaleX(0.7592)">such as dentists and stomatologists; physicians working abroad and includes physicians who are citizens of a Member State</div>
<div class="f n k4" style="left:466.76px;top:971.9px;transform:scaleX(0.757)"><sup>2</sup> Data reporting includes double counts of physicians who have graduated as general practitioners as well as specialists. This concerns about 200 to 280</div>
<div class="f n k4" style="left:601.94px;top:997.4px;transform:scaleX(0.7562)">cases in the most recent years. Therefore, the sum of physicians by categories is higher than the total number of practising physicians.</div>
<div class="f n k4" style="left:336.65px;top:1022.5px;transform:scaleX(0.7521)"><sup>3</sup> Data includes only general nurses employed in hospitals and excludes assistant nurses employed in hospitals. Change of hospital nurses relates to years 2000 and 2015.</div>
<div class="f n k4" style="left:336.04px;top:1055.9px;transform:scaleX(0.7551)"><i class='s'>Sources</i>: Number of practising physicians, general practitioners, specialist physicians and dentists: <span class='u'>OECD, 2017g; OECD, 2017h;</span> number of nurses, hospital-based medical</div>
<div class="f n k4" style="left:505.3px;top:1081.1px;transform:scaleX(0.7624)">technicians, midwives in hospitals and licensed to practice: Statistics Austria, 2017c; Statistics Austria, 2017d; number of pharmacists: <span class='u'>ÖÄK, 2017a</span></div>
</body>
</html>
